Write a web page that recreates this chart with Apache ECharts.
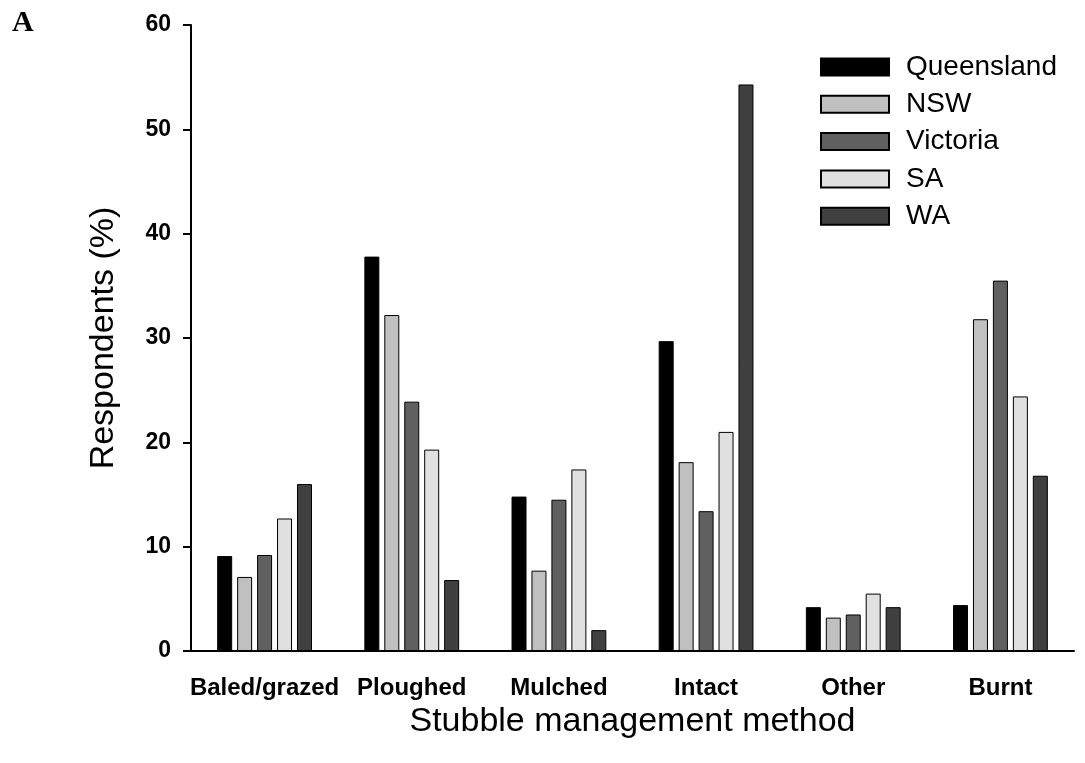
<!DOCTYPE html>
<html>
<head>
<meta charset="utf-8">
<script src="https://cdn.jsdelivr.net/npm/echarts@6/dist/echarts.min.js"></script>
<style>
  html, body { margin: 0; padding: 0; background: #fff; }
  #chart { width: 1085px; height: 763px; }
</style>
</head>
<body>
<div id="chart"></div>
<script>
// stubble management by state
const categories = ['Baled/grazed', 'Ploughed', 'Mulched', 'Intact', 'Other', 'Burnt'];
const queensland = [9.1, 37.8, 14.8, 29.7, 4.2, 4.4];
const nsw = [7.1, 32.2, 7.7, 18.1, 3.2, 31.8];
const victoria = [9.2, 23.9, 14.5, 13.4, 3.5, 35.5];
const sa = [12.7, 19.3, 17.4, 21.0, 5.5, 24.4];
const wa = [16.0, 6.8, 2.0, 54.3, 4.2, 16.8];

const myChart = echarts.init(document.getElementById('chart'));

const bar = (name, data, color) => ({
  name: name,
  type: 'bar',
  data: data,
  barWidth: 15,
  barGap: '33%',
  itemStyle: { color: color, borderColor: '#000', borderWidth: 1 }
});

const option = {
  animation: false,
  textStyle: { fontFamily: 'Liberation Sans, Arial, sans-serif' },
  graphic: [{
    type: 'text',
    left: 12,
    top: 8,
    style: { text: 'A', font: 'bold 30px "Liberation Serif", serif', fill: '#000' }
  }],
  grid: { left: 191, right: 11, top: 25, bottom: 112 },
  legend: {
    orient: 'vertical',
    left: 820,
    top: 53,
    padding: 0,
    itemWidth: 68,
    itemHeight: 17,
    itemGap: 9.3,
    icon: 'rect',
    textStyle: { fontSize: 28, color: '#000', padding: [0, 0, 0, 12] },
    data: ['Queensland', 'NSW', 'Victoria', 'SA', 'WA']
  },
  xAxis: {
    type: 'category',
    data: categories,
    name: 'Stubble management method',
    nameLocation: 'middle',
    nameGap: 39,
    nameTextStyle: { fontSize: 34, color: '#000' },
    axisLine: { lineStyle: { color: '#000', width: 2 } },
    axisTick: { alignWithLabel: true, length: 9, lineStyle: { color: '#000', width: 2 } },
    axisLabel: { fontSize: 24, fontWeight: 'bold', color: '#000', margin: 25, interval: 0 }
  },
  yAxis: {
    type: 'value',
    min: 0,
    max: 60,
    interval: 10,
    name: 'Respondents (%)',
    nameLocation: 'middle',
    nameGap: 70,
    nameTextStyle: { fontSize: 34, color: '#000' },
    splitLine: { show: false },
    axisLine: { show: true, lineStyle: { color: '#000', width: 2 } },
    axisTick: { show: true, length: 8, lineStyle: { color: '#000', width: 2 } },
    axisLabel: { fontSize: 23, fontWeight: 'bold', color: '#000', margin: 20 }
  },
  series: [
    bar('Queensland', queensland, '#000000'),
    bar('NSW', nsw, '#c0c0c0'),
    bar('Victoria', victoria, '#606060'),
    bar('SA', sa, '#e0e0e0'),
    bar('WA', wa, '#404040')
  ]
};

myChart.setOption(option);
</script>
</body>
</html>
